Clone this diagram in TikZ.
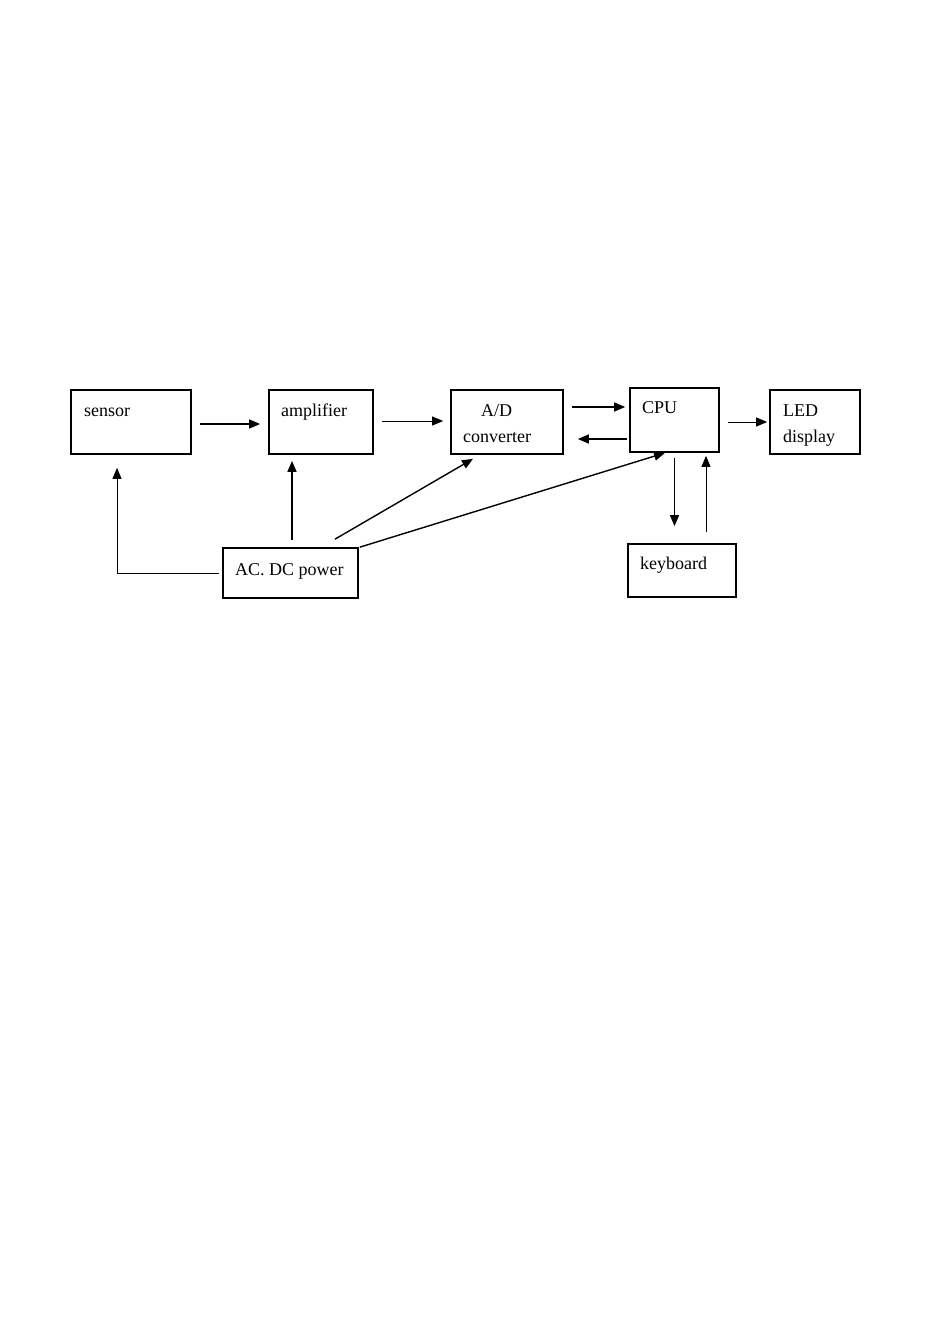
\documentclass[tikz,border=0pt]{standalone}
\usepackage{fontspec}
\setmainfont{Liberation Serif}
\usetikzlibrary{arrows.meta,calc}
\begin{document}
\begin{tikzpicture}[x=1pt,y=-1pt,
  box/.style={draw=black,line width=1.7pt,rectangle,inner sep=0pt},
  lbl/.style={anchor=base west,inner sep=0pt,font=\fontsize{18}{20}\selectfont},
  arr/.style={line width=1.4pt,-{Triangle[length=11pt,width=9pt]}},
  arrthin/.style={line width=0.9pt,-{Triangle[length=11pt,width=9pt]}}]
\useasboundingbox (0,0) rectangle (933,1324);
\fill[white] (0,0) rectangle (933,1324);
% boxes
\node[box,minimum width=120pt,minimum height=64pt] (sensor) at (131,422) {};
\node[box,minimum width=104pt,minimum height=64pt] (amp) at (321,422) {};
\node[box,minimum width=112pt,minimum height=64pt] (ad) at (507,422) {};
\node[box,minimum width=89pt,minimum height=64pt] (cpu) at (674.5,420) {};
\node[box,minimum width=90pt,minimum height=64pt] (led) at (815,422) {};
\node[box,minimum width=108pt,minimum height=53pt] (kb) at (682,570.5) {};
\node[box,minimum width=135pt,minimum height=50pt] (pw) at (290.5,573) {};
% labels
\node[lbl] (sensorT) at (84,416) {sensor};
\node[lbl] (ampT) at (281,416) {amplifier};
\node[lbl] (adT1) at (481,416) {A/D};
\node[lbl] (adT2) at (463,442) {converter};
\node[lbl] (cpuT) at (642,413) {CPU};
\node[lbl] (ledT1) at (783,416) {LED};
\node[lbl] (ledT2) at (783,442) {display};
\node[lbl] (kbT) at (640,569) {keyboard};
\node[lbl] (pwT) at (235,575) {AC. DC power};
% arrows
\draw[arr] ($(sensor.east)+(8,2)$) -- ($(amp.west)+(-8,2)$);
\draw[arrthin] ($(amp.east)+(8,-1)$) -- ($(ad.west)+(-7,-1)$);
\draw[arr] ($(ad.east)+(8,-15)$) -- ($(cpu.west)+(-4,-13)$);
\draw[arr] ($(cpu.west)+(-2,19)$) -- ($(ad.east)+(14,17)$);
\draw[arrthin] ($(cpu.east)+(8,2)$) -- ($(led.west)+(-2,0)$);
\draw[arr] ($(cpu.south)+(0,5)$) -- ($(kb.north)+(-7.5,-17)$);
\draw[arrthin] ($(kb.north)+(24,-11)$) -- ($(cpu.south)+(31.5,3)$);
\draw[arrthin] ($(pw.west)+(-3,0)$) -| ($(sensor.south)+(-14,13)$);
\draw[arr] ($(pw.north)+(1.5,-7)$) -- ($(amp.south)+(-29,6)$);
\draw[arr] ($(pw.north)+(44.5,-8)$) -- ($(ad.south)+(-34,4)$);
\draw[arr] ($(pw.north east)+(1,0)$) -- ($(cpu.south)+(-9.5,0)$);
\end{tikzpicture}
\end{document}
